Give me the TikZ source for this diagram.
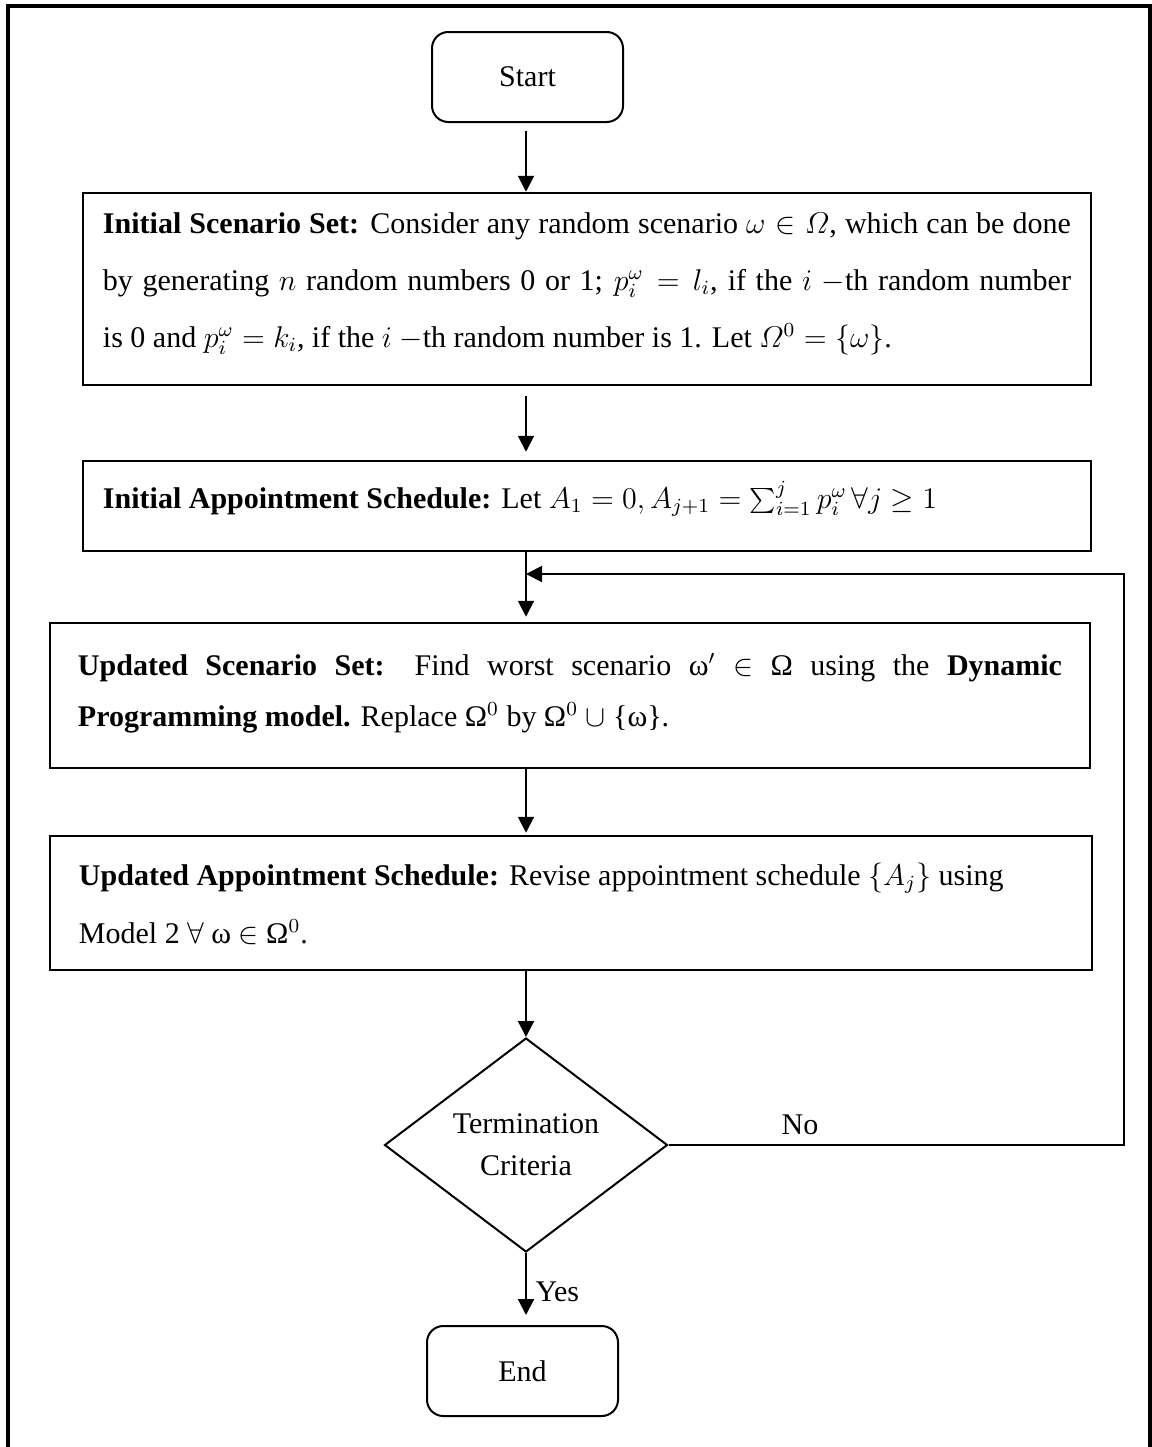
\documentclass[tikz,border=0pt]{standalone}
\usepackage{fontspec}
\setmainfont{Liberation Serif}
\usetikzlibrary{shapes.geometric,arrows.meta}

% text block of a process box: width, height, gap above the first line, body
\newcommand{\boxtext}[4]{\parbox[c][#2][t]{#1}{\vspace*{#3}\rule{0pt}{10pt}#4}}

\begin{document}
\begin{tikzpicture}[x=0.4pt,y=-0.4pt,
  every node/.style={font=\fontsize{12}{14.4}\selectfont},
  flow/.style={draw, line width=0.8pt, -{Triangle[width=6.4pt,length=6.4pt]}},
  terminal/.style={draw, line width=0.8pt, rounded corners=6.5pt,
    minimum width=76.4pt, minimum height=36pt, inner sep=0pt},
  procbox/.style={draw, line width=1pt, inner sep=0pt},
  decision/.style={draw, diamond, line width=0.8pt, aspect=1.32,
    minimum width=113.2pt, minimum height=85.6pt, inner sep=0pt, align=center},
  edgelabel/.style={inner sep=0pt}]

% page area and outer frame
\useasboundingbox (0,0) rectangle (1152,1447);
\clip (0,0) rectangle (1152,1447);
\draw[line width=1.8pt] (8,6) rectangle (1150,1500);

% terminals
\node[terminal] (start) at (527.5,77) {Start};
\node[terminal] (end) at (522.5,1371) {End};

% process boxes
\node[procbox, minimum width=403.2pt, font=\fontsize{12}{22.8}\selectfont] (b1) at (587,289)
  {\boxtext{387.2pt}{76.8pt}{6pt}{\textbf{Initial Scenario Set:} Consider any random scenario $\omega\in\mathnormal{\Omega}$, which can be done\linebreak
   by generating $n$ random numbers 0 or 1; $p_i^{\omega}=l_i$, if the $i$ $-$th random number\linebreak
   is 0 and $p_i^{\omega}=k_i$, if the $i$ $-$th random number is 1. Let $\mathnormal{\Omega}^0=\{\omega\}$.}};

\node[procbox, minimum width=403.2pt] (b2) at (587,506)
  {\boxtext{387.2pt}{36pt}{8pt}{\textbf{Initial Appointment Schedule:} Let $A_1=0, A_{j+1}=\sum_{i=1}^{j}p_i^{\omega}\,\forall j\geq 1$}};

\node[procbox, minimum width=416pt, font=\fontsize{12}{20.4}\selectfont] (b3) at (570,695.5)
  {\boxtext{393.6pt}{58pt}{10.8pt}{\textbf{Updated Scenario Set:} Find worst scenario ω$'$ $\in$ Ω using the \textbf{Dynamic}\linebreak
   \textbf{Programming model.} Replace Ω$^0$ by Ω$^0$ $\cup$ \{ω\}.}};

\node[procbox, minimum width=416.8pt, font=\fontsize{12}{23.2}\selectfont] (b4) at (571,903)
  {\boxtext{393.6pt}{53.6pt}{9.6pt}{\textbf{Updated Appointment Schedule:} Revise appointment schedule $\left\{A_j\right\}$ using\\
   Model 2 $\forall$ ω $\in$ Ω$^0$.}};

% decision
\node[decision, font=\fontsize{12}{16.8}\selectfont] (dec) at (526,1145) {Termination\\Criteria};

% main column of connectors
\coordinate (col) at (526,0);
\coordinate (loopx) at (1124,0);
\coordinate (join) at (526,574);

\draw[flow, shorten <=3.2pt] (start.south -| col) -- (b1.north -| col);
\draw[flow, shorten <=4pt, shorten >=3.2pt] (b1.south -| col) -- (b2.north -| col);
\draw[flow, shorten >=2pt] (b2.south -| col) -- (b3.north -| col);
\draw[flow, shorten >=0.8pt] (b3.south -| col) -- (b4.north -| col);
\draw[flow] (b4.south -| dec.north) -- (dec.north);
\draw[flow, shorten >=4pt] (dec.south) -- (dec.south |- end.north);

% loop back when the criteria are not met
\draw[flow] (dec.east) -- (dec.east -| loopx) -- (join -| loopx) -- (join);

\node[edgelabel] (no) at (800,1125) {No};
\node[edgelabel, anchor=west] (yes) at (535,1292) {Yes};

\end{tikzpicture}
\end{document}
